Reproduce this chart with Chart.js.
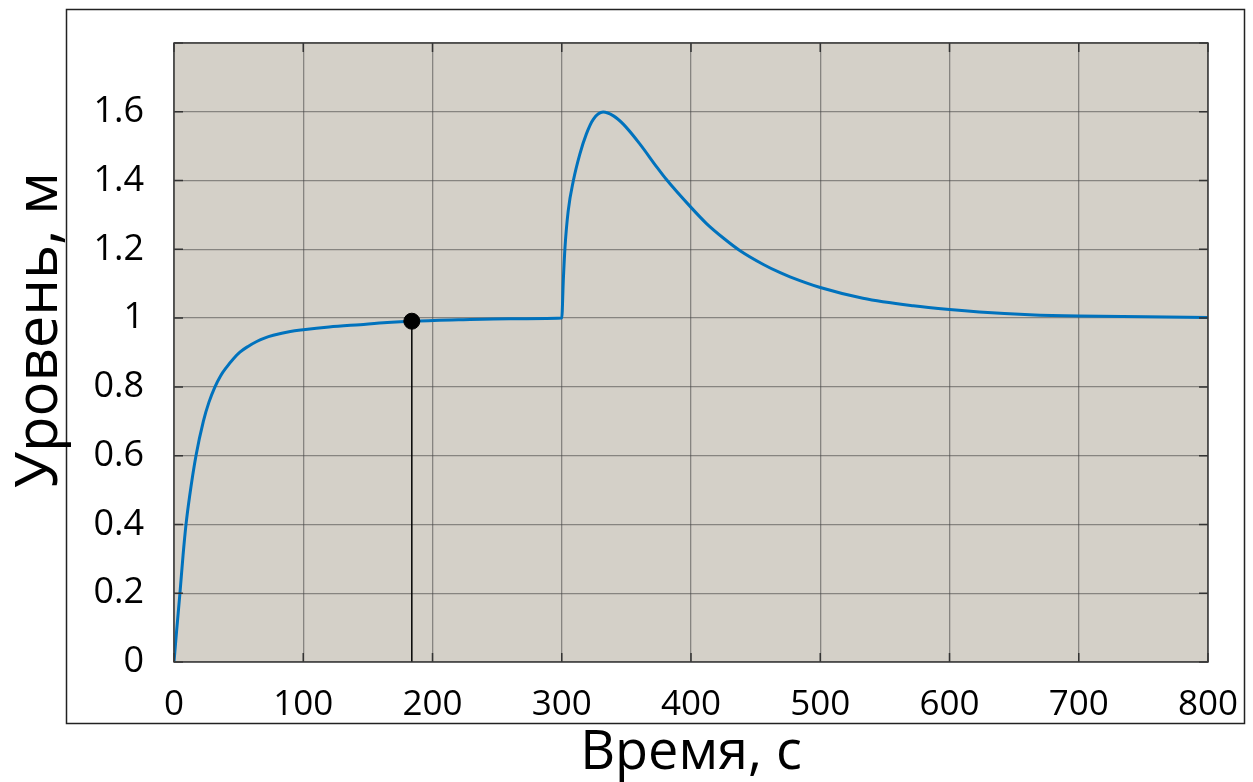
<!DOCTYPE html>
<html>
<head>
<meta charset="utf-8">
<script src="https://cdn.jsdelivr.net/npm/chart.js"></script>
<style>
  html, body { margin: 0; padding: 0; background: #fff; }
  #wrap { width: 1253px; height: 782px; }
</style>
</head>
<body>
<div id="wrap"><canvas id="levelChart" width="1253" height="782"></canvas></div>
<script>
// values
const times  = [0, 2, 4.6, 7, 9.3, 12, 17, 22.7, 27, 31.7, 36, 40.6, 46, 51, 57, 64, 70, 76.8, 90, 100,
                120, 144, 165, 184, 220, 260, 300,
                301.2, 302.5, 305, 309, 314, 319, 324.4, 332, 340, 347.6, 360.5, 373.4, 381, 400, 412, 425,
                438, 456, 469, 476.6, 500, 533, 572, 600, 623, 662, 700, 752, 800];
const levels = [0, 0.09, 0.2, 0.31, 0.4, 0.48, 0.6, 0.7, 0.755, 0.8, 0.832, 0.857, 0.882, 0.901, 0.917, 0.932, 0.942, 0.95, 0.961, 0.966,
                0.974, 0.981, 0.987, 0.991, 0.995, 0.998, 1.0,
                1.109, 1.205, 1.312, 1.4, 1.477, 1.535, 1.578, 1.599, 1.588, 1.564, 1.506, 1.44, 1.403, 1.322, 1.275, 1.233,
                1.196, 1.156, 1.132, 1.12, 1.089, 1.058, 1.036, 1.025, 1.018, 1.01, 1.006, 1.004, 1.002];
const markerTime  = [184];
const markerLevel = [0.991];
const xTicks = ['0', '100', '200', '300', '400', '500', '600', '700', '800'];
const yTicks = ['0', '0.2', '0.4', '0.6', '0.8', '1', '1.2', '1.4', '1.6', ''];
const yTitle = 'Уровень, м';

const curve = times.map((t, i) => ({ x: t, y: levels[i] }));
const marker = markerTime.map((t, i) => ({ x: t, y: markerLevel[i] }));
const dropLine = [{ x: markerTime[0], y: 0 }, { x: markerTime[0], y: markerLevel[0] }];

// frame around the figure, plot background, inward ticks, y title
const decor = {
  id: 'decor',
  beforeDraw(chart) {
    const { ctx, chartArea: a } = chart;
    ctx.save();
    ctx.strokeStyle = '#222';
    ctx.lineWidth = 1.5;
    ctx.strokeRect(66.5, 9.5, 1178, 714);
    ctx.fillStyle = '#d4d0c8';
    ctx.fillRect(a.left, a.top, a.right - a.left, a.bottom - a.top);
    ctx.restore();
  },
  afterDatasetsDraw(chart) {
    const { ctx, chartArea: a, scales } = chart;
    ctx.save();
    ctx.strokeStyle = '#333';
    ctx.lineWidth = 1.5;
    ctx.beginPath();
    scales.y.ticks.forEach(t => {
      const y = scales.y.getPixelForValue(t.value);
      ctx.moveTo(a.left, y); ctx.lineTo(a.left + 9, y);
      ctx.moveTo(a.right, y); ctx.lineTo(a.right - 9, y);
    });
    scales.x.ticks.forEach(t => {
      const x = scales.x.getPixelForValue(t.value);
      ctx.moveTo(x, a.bottom); ctx.lineTo(x, a.bottom - 9);
      ctx.moveTo(x, a.top); ctx.lineTo(x, a.top + 9);
    });
    ctx.stroke();
    ctx.strokeStyle = '#3a3a3a';
    ctx.strokeRect(a.left, a.top, a.right - a.left, a.bottom - a.top);

    // y axis title, set a little above the plot's middle as in the original
    ctx.translate(40, 330);
    ctx.rotate(-Math.PI / 2);
    ctx.fillStyle = '#000';
    ctx.font = '58px "Open Sans"';
    ctx.textAlign = 'center';
    ctx.textBaseline = 'middle';
    ctx.fillText(yTitle, 0, 0);
    ctx.restore();
  }
};

const ctx = document.getElementById('levelChart').getContext('2d');
new Chart(ctx, {
  type: 'line',
  data: {
    datasets: [
      {
        data: dropLine,
        borderColor: '#000',
        borderWidth: 1.5,
        pointRadius: 0,
        order: 2
      },
      {
        data: curve,
        borderColor: '#0072bd',
        borderWidth: 3,
        pointRadius: 0,
        cubicInterpolationMode: 'monotone',
        order: 1
      },
      {
        data: marker,
        showLine: false,
        pointRadius: 8,
        pointBackgroundColor: '#000',
        pointBorderColor: '#000',
        order: 0
      }
    ]
  },
  options: {
    responsive: false,
    animation: false,
    layout: { padding: { left: 8, top: 43, right: 45, bottom: 0 } },
    plugins: { legend: { display: false }, tooltip: { enabled: false } },
    scales: {
      x: {
        type: 'linear',
        min: 0, max: 800,
        ticks: {
          stepSize: 100,
          padding: 22,
          color: '#000',
          font: { family: 'Open Sans', size: 35 },
          maxRotation: 0,
          callback: (v) => xTicks[Math.round(v / 100)]
        },
        grid: { color: 'rgba(70,70,70,0.55)', lineWidth: 1.3, drawTicks: false },
        border: { display: false },
        title: {
          display: true,
          text: 'Время, с',
          color: '#000',
          font: { family: 'Open Sans', size: 54 },
          padding: { top: 0, bottom: -4 }
        },
        afterFit: (s) => { s.height = 120; s.paddingLeft = 0; s.paddingRight = 0; }
      },
      y: {
        min: 0, max: 1.8,
        ticks: {
          stepSize: 0.2,
          padding: 30,
          color: '#000',
          font: { family: 'Open Sans', size: 36 },
          callback: (v) => yTicks[Math.round(v * 5)]
        },
        grid: { color: 'rgba(70,70,70,0.55)', lineWidth: 1.3, drawTicks: false },
        border: { display: false },
        afterFit: (s) => { s.width = 166; s.paddingTop = 0; s.paddingBottom = 0; }
      }
    }
  },
  plugins: [decor]
});
</script>
</body>
</html>
